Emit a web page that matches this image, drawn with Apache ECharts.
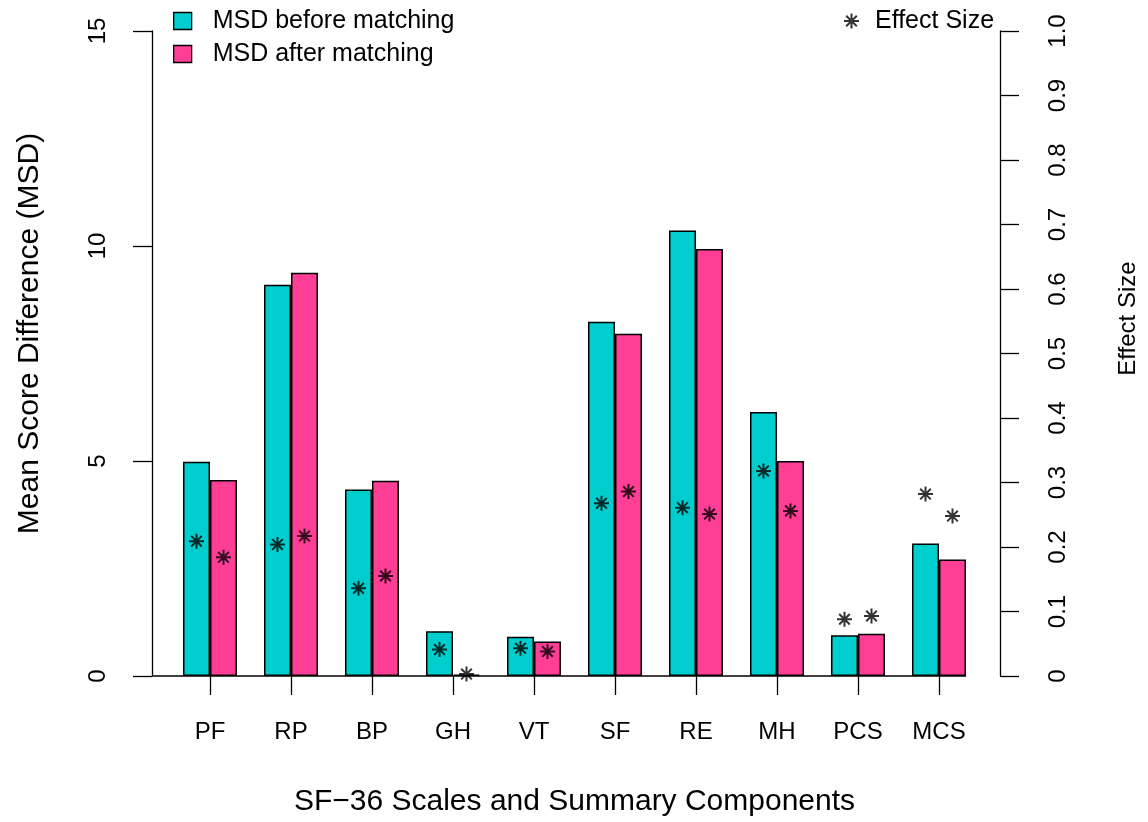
<!DOCTYPE html>
<html>
<head>
<meta charset="utf-8">
<script src="https://cdn.jsdelivr.net/npm/echarts@6/dist/echarts.min.js"></script>
<style>html,body{margin:0;padding:0;background:#fff;}#c{width:1148px;height:822px;}</style>
</head>
<body>
<div id="c"></div>
<script>
const categories = ['PF', 'RP', 'BP', 'GH', 'VT', 'SF', 'RE', 'MH', 'PCS', 'MCS'];
const msdBefore = [4.98, 9.10, 4.34, 1.04, 0.91, 8.24, 10.36, 6.14, 0.95, 3.08];
const msdAfter = [4.56, 9.38, 4.54, 0.03, 0.80, 7.96, 9.93, 5.00, 0.98, 2.71];
const esBefore = [0.209, 0.204, 0.136, 0.041, 0.043, 0.268, 0.261, 0.318, 0.088, 0.282];
const esAfter = [0.184, 0.217, 0.155, 0.003, 0.038, 0.286, 0.251, 0.256, 0.093, 0.248];
const leftTicks = [0, 5, 10, 15];
const rightTicks = [0, 0.1, 0.2, 0.3, 0.4, 0.5, 0.6, 0.7, 0.8, 0.9, 1.0];

const FONT = 'Liberation Sans, Arial, Helvetica, sans-serif';
const CYAN = '#00CDCD';
const PINK = '#FF3E96';
const STAR = 'path://M0,-1L0,1M-1,0L1,0M-0.7071,-0.7071L0.7071,0.7071M-0.7071,0.7071L0.7071,-0.7071';
const BAR_W = 27;
const GRID_LEFT = 169.5;
const LEFT_OFFSET = 17.5;

const chart = echarts.init(document.getElementById('c'), null, {renderer: 'canvas'});
const axisLineStyle = {color: '#000', width: 1.3};
const option = {
  backgroundColor: '#fff',
  animation: false,
  textStyle: {fontFamily: FONT, color: '#000'},
  grid: {left: GRID_LEFT, right: 168.5, top: 31, bottom: 145},
  legend: [
    {
      data: ['MSD before matching', 'MSD after matching'],
      orient: 'vertical', left: 168, top: 3,
      icon: 'rect',
      itemWidth: 18, itemHeight: 17, itemGap: 7,
      itemStyle: {borderColor: '#000', borderWidth: 1.3},
      textStyle: {fontFamily: FONT, fontSize: 25, color: '#000', padding: [0, 0, 0, 16], lineHeight: 26},
      selectedMode: false
    },
    {
      data: [{name: 'Effect Size', icon: STAR}],
      left: 838, top: 3,
      itemWidth: 15, itemHeight: 15,
      itemStyle: {color: '#000', borderColor: '#000', borderWidth: 2},
      textStyle: {fontFamily: FONT, fontSize: 25, color: '#000', padding: [0, 0, 0, 11], lineHeight: 26},
      selectedMode: false
    }
  ],
  xAxis: {
    type: 'category',
    data: categories,
    boundaryGap: true,
    name: 'SF\u221236 Scales and Summary Components',
    nameLocation: 'middle',
    nameGap: 111,
    nameTextStyle: {fontFamily: FONT, fontSize: 30, color: '#000'},
    axisLine: {show: false},
    axisTick: {show: true, alignWithLabel: true, length: 19, lineStyle: axisLineStyle},
    axisLabel: {fontFamily: FONT, fontSize: 24, color: '#000', margin: 44},
    splitLine: {show: false}
  },
  yAxis: [
    {
      type: 'value', min: 0, max: 15, interval: 5,
      position: 'left', offset: LEFT_OFFSET,
      name: 'Mean Score Difference (MSD)',
      nameLocation: 'middle', nameGap: 107, nameRotate: 90,
      nameTextStyle: {fontFamily: FONT, fontSize: 30, color: '#000', padding: [0, 0, 0, 40]},
      axisLine: {show: true, lineStyle: axisLineStyle},
      axisTick: {show: true, length: 19, lineStyle: axisLineStyle},
      axisLabel: {fontFamily: FONT, fontSize: 24, color: '#000', margin: 42, rotate: 90,
        customValues: leftTicks, formatter: v => String(v)},
      splitLine: {show: false}
    },
    {
      type: 'value', min: 0, max: 1, interval: 0.1,
      position: 'right', offset: 20.5,
      name: 'Effect Size',
      nameLocation: 'middle', nameGap: 116, nameRotate: 90,
      nameTextStyle: {fontFamily: FONT, fontSize: 24, color: '#000', padding: [0, 0, 0, 70]},
      axisLine: {show: true, lineStyle: axisLineStyle},
      axisTick: {show: true, length: 19, lineStyle: axisLineStyle},
      axisLabel: {fontFamily: FONT, fontSize: 24, color: '#000', margin: 46, rotate: 90,
        customValues: rightTicks, formatter: v => (v === 0 ? '0' : v.toFixed(1))},
      splitLine: {show: false}
    }
  ],
  series: [
    {
      name: 'MSD before matching', type: 'bar', data: msdBefore, yAxisIndex: 0,
      barWidth: BAR_W, barGap: '0%',
      itemStyle: {color: CYAN, borderColor: '#000', borderWidth: 1.5}
    },
    {
      name: 'MSD after matching', type: 'bar', data: msdAfter, yAxisIndex: 0,
      barWidth: BAR_W, barGap: '0%',
      itemStyle: {color: PINK, borderColor: '#000', borderWidth: 1.5}
    },
    {
      name: 'Effect Size', type: 'scatter', data: esBefore, yAxisIndex: 1,
      symbol: STAR, symbolSize: 15, symbolOffset: [-BAR_W / 2, 0], z: 5,
      itemStyle: {color: '#000', borderColor: '#000', borderWidth: 2}
    },
    {
      name: 'Effect Size', type: 'scatter', data: esAfter, yAxisIndex: 1,
      symbol: STAR, symbolSize: 15, symbolOffset: [BAR_W / 2, 0], z: 5,
      itemStyle: {color: '#000', borderColor: '#000', borderWidth: 2}
    }
  ]
};
chart.setOption(option);

// baseline (x axis line) from the left value axis to the right edge of the last bar
const y0 = chart.convertToPixel({yAxisIndex: 0}, 0);
const xLast = chart.convertToPixel({xAxisIndex: 0}, categories[categories.length - 1]);
chart.setOption({
  graphic: [{
    type: 'line', z: 1,
    shape: {x1: GRID_LEFT - LEFT_OFFSET, y1: y0, x2: xLast + BAR_W, y2: y0},
    style: {stroke: '#000', lineWidth: 1.3}
  }]
});
</script>
</body>
</html>
